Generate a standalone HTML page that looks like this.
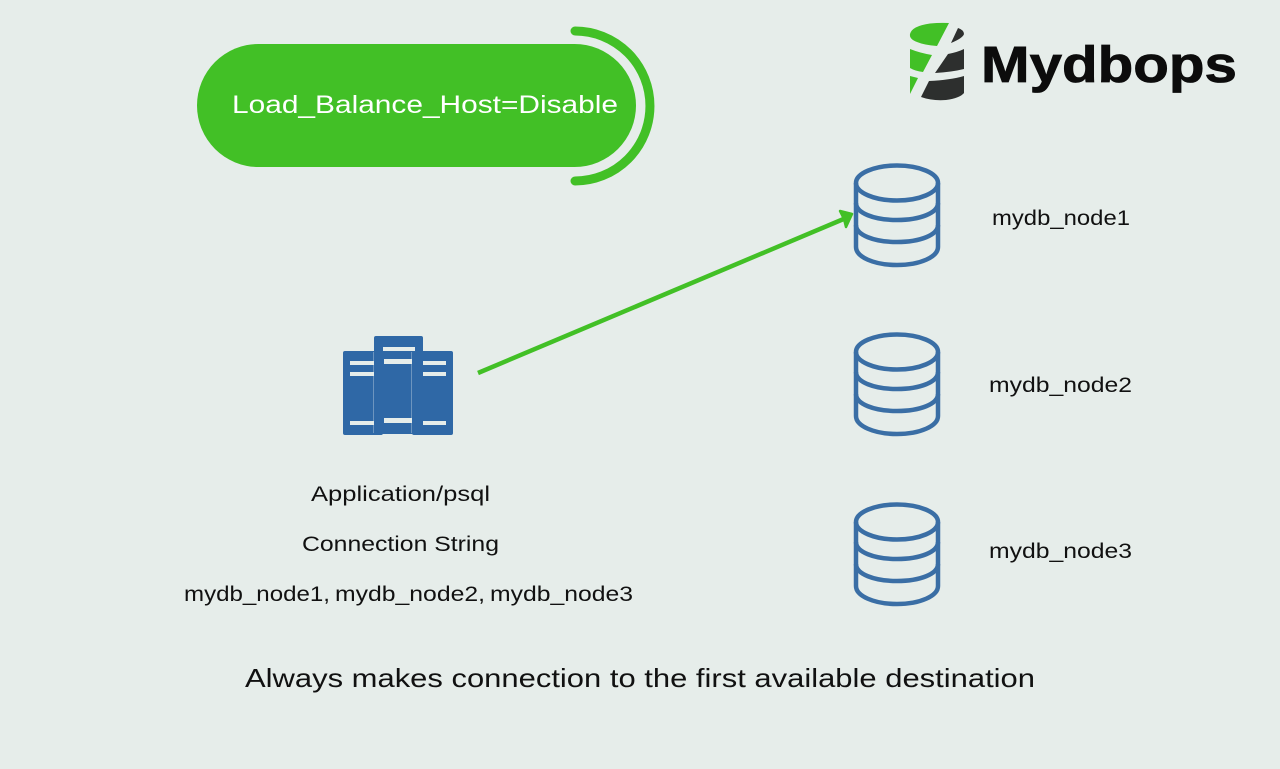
<!DOCTYPE html>
<html><head><meta charset="utf-8"><style>
html,body{margin:0;padding:0;background:#e6edea;width:1280px;height:769px;overflow:hidden}
svg{display:block}
text{font-family:"Liberation Sans",sans-serif;fill:#111}
</style></head><body>
<svg width="1280" height="769" viewBox="0 0 1280 769" xmlns="http://www.w3.org/2000/svg">
<defs>
<g id="db" fill="none" stroke="#3a6ea5" stroke-width="4.5">
<ellipse cx="897" cy="183" rx="41" ry="17.500"/>
<path d="M856 183V247C856 257 874 265 897 265S938 257 938 247V183"/>
<path d="M856 203C856 213 874 220 897 220S938 213 938 203"/>
<path d="M856 225C856 235 874 242 897 242S938 235 938 225"/>
</g>
</defs>
<rect x="197" y="44" width="439" height="123" rx="61.500" fill="#42c026"/>
<path d="M575 31A74.500 74.500 0 0 1 575 181" fill="none" stroke="#42c026" stroke-width="9" stroke-linecap="round"/>
<text x="232" y="113" font-size="25" textLength="386" lengthAdjust="spacingAndGlyphs" style="fill:#fff">Load_Balance_Host=Disable</text>

<path d="M910 34Q912 26 930 23.500Q940 22.500 949 23L937 46Q924 45 917 42Q909 39 910 34Z" fill="#42c026"/>
<path d="M958 28Q964 30 964 34Q963 38 951 43Z" fill="#2d2f2e"/>
<path d="M910 49Q920 53 932 55L923 72Q915 71 910 68Z" fill="#42c026"/>
<path d="M948 54Q958 52 964 49V69Q952 72 935 73Z" fill="#2d2f2e"/>
<path d="M910 76L918 78L910 94Z" fill="#42c026"/>
<path d="M929 81Q950 80 964 76V93Q960 98 946 100Q932 101 921 97Z" fill="#2d2f2e"/>
<text x="981" y="82" font-size="51" font-weight="700" textLength="256" lengthAdjust="spacingAndGlyphs" style="fill:#0c0c0c;stroke:#0c0c0c;stroke-width:.8">Mydbops</text>

<use href="#db"/>
<use href="#db" y="169"/>
<use href="#db" y="339"/>

<text x="992" y="225" font-size="21" textLength="138" lengthAdjust="spacingAndGlyphs">mydb_node1</text>
<text x="989" y="392" font-size="21" textLength="143" lengthAdjust="spacingAndGlyphs">mydb_node2</text>
<text x="989" y="558" font-size="21" textLength="143" lengthAdjust="spacingAndGlyphs">mydb_node3</text>

<line x1="478" y1="373" x2="846" y2="218" stroke="#42c026" stroke-width="4.500"/>
<path d="M852 214L840 211L844 219L846 227Z" fill="#42c026" stroke="#42c026" stroke-width="2.500" stroke-linejoin="round"/>

<rect x="343" y="351" width="40" height="84" rx="2" fill="#2f68a6"/>
<rect x="412" y="351" width="41" height="84" rx="2" fill="#2f68a6"/>
<rect x="374" y="336" width="49" height="98" rx="2" fill="#2f68a6"/>
<path d="M373.500 352V433M411.500 352V433" stroke="#6d95bf" stroke-width="1"/>
<g fill="#e6edea">
<rect x="350" y="361" width="24" height="4"/><rect x="350" y="372" width="24" height="4"/><rect x="350" y="421" width="24" height="4"/>
<rect x="383" y="347" width="32" height="4"/><rect x="384" y="359" width="28" height="5"/><rect x="384" y="418" width="28" height="5"/>
<rect x="423" y="361" width="23" height="4"/><rect x="423" y="372" width="23" height="4"/><rect x="423" y="421" width="23" height="4"/>
</g>

<text x="311" y="501" font-size="21" textLength="179" lengthAdjust="spacingAndGlyphs">Application/psql</text>
<text x="302" y="551" font-size="21" textLength="197" lengthAdjust="spacingAndGlyphs">Connection String</text>
<text x="184" y="601" font-size="21" textLength="146" lengthAdjust="spacingAndGlyphs">mydb_node1,</text>
<text x="335" y="601" font-size="21" textLength="150" lengthAdjust="spacingAndGlyphs">mydb_node2,</text>
<text x="490" y="601" font-size="21" textLength="143" lengthAdjust="spacingAndGlyphs">mydb_node3</text>
<text x="245" y="687" font-size="26" textLength="790" lengthAdjust="spacingAndGlyphs">Always makes connection to the first available destination</text>
</svg>
</body></html>
